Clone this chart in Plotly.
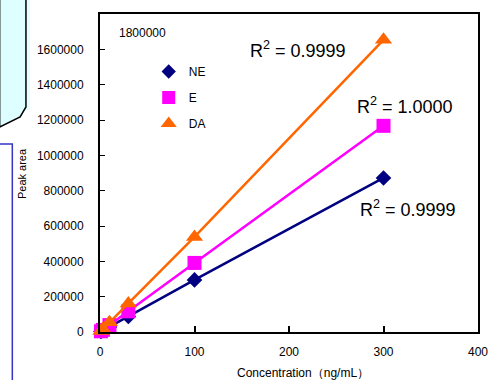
import plotly.graph_objects as go

conc = [1, 3, 10, 30, 100, 300]
ne = [3000, 9000, 29000, 88000, 295000, 872000]
e = [4000, 12000, 39000, 117000, 391000, 1167000]
da = [5500, 16500, 55000, 162000, 538000, 1654000]
series_names = ["NE", "E", "DA"]
r2_labels = ["R<sup>2</sup> = 0.9999", "R<sup>2</sup> = 1.0000", "R<sup>2</sup> = 0.9999"]
x_ticks = [0, 100, 200, 300, 400]
y_ticks = [0, 200000, 400000, 600000, 800000, 1000000, 1200000, 1400000, 1600000]

W, H = 497, 380
ML, MR, MT, MB = 100, 9, 14, 48
PW, PH = W - ML - MR, H - MT - MB

def px(x):
    return (x - ML) / PW

def py(y):
    return (H - MB - y) / PH

FONT = "Liberation Sans"
colors = ["#000080", "#FF00FF", "#FF6600"]
symbols = ["diamond", "square", "triangle-up"]
sizes = [12, 14, 15]

fig = go.Figure()
for name, vals, c, s, sz in zip(series_names, [ne, e, da], colors, symbols, sizes):
    fig.add_trace(go.Scatter(x=conc, y=vals, mode="lines+markers", name=name,
                             line=dict(color=c, width=2.5),
                             marker=dict(symbol=s, size=sz, color=c),
                             showlegend=False, cliponaxis=False))
for name, c, s, sz in zip(series_names, colors, symbols, sizes):
    fig.add_trace(go.Scatter(x=[None], y=[None], mode="markers", name=name,
                             marker=dict(symbol=s, size=sz - 1, color=c),
                             legendgroup=name, showlegend=True))

fig.update_layout(
    width=W, height=H,
    margin=dict(l=ML, r=MR, t=MT, b=MB, pad=0),
    paper_bgcolor="white", plot_bgcolor="white",
    font=dict(family=FONT, size=12, color="black"),
    showlegend=True,
    legend=dict(x=px(150), y=py(57), xanchor="left", yanchor="top",
                bgcolor="rgba(0,0,0,0)", font=dict(size=12),
                tracegroupgap=7, itemwidth=30),
    xaxis=dict(range=[0, 400], tickvals=x_ticks, ticks="inside", ticklen=6,
               tickwidth=1.5, tickcolor="black", showline=True, linewidth=2,
               linecolor="black", mirror=True, showgrid=False, zeroline=False,
               tickfont=dict(size=12), ticklabelstandoff=8),
    yaxis=dict(range=[0, 1800000], tickvals=y_ticks, ticks="inside", ticklen=5,
               tickwidth=1, tickcolor="black", showline=True, linewidth=2,
               linecolor="black", mirror=True, showgrid=False, zeroline=False,
               tickfont=dict(size=12), ticklabelstandoff=12, tickformat="d"),
)

ann = []
ann.append(dict(x=px(144), y=py(33), text="1800000", font=dict(size=12)))
ann.append(dict(x=px(303), y=py(50), text=r2_labels[0], font=dict(size=18)))
ann.append(dict(x=px(413), y=py(105), text=r2_labels[1], font=dict(size=18)))
ann.append(dict(x=px(416), y=py(208), text=r2_labels[2], font=dict(size=18)))
ann.append(dict(x=px(20), y=py(174), text="Peak area", textangle=-90, font=dict(size=11)))
ann.append(dict(x=px(308), y=py(373), text="Concentration（ng/mL）", font=dict(size=12)))
for a in ann:
    a.update(xref="paper", yref="paper", showarrow=False, xanchor="center", yanchor="middle")
fig.update_layout(annotations=ann)

shapes = []
shapes.append(dict(type="rect", xref="paper", yref="paper",
                   x0=px(24), x1=px(28), y0=py(110), y1=py(0),
                   fillcolor="#E6FFFF", line=dict(width=0), layer="above"))
path = "M {},{} L {},{} L {},{} L {},{} L {},{} Z".format(
    px(-3), py(-3), px(24), py(-3), px(24), py(107), px(18), py(117), px(-3), py(127))
shapes.append(dict(type="path", xref="paper", yref="paper", path=path,
                   fillcolor="#DDFFFF", line=dict(color="black", width=1.5), layer="above"))
path2 = "M {},{} L {},{} L {},{}".format(px(-3), py(144), px(10), py(144), px(10), py(383))
shapes.append(dict(type="path", xref="paper", yref="paper", path=path2,
                   line=dict(color="#3535C8", width=1.5), layer="above"))
fig.update_layout(shapes=shapes)

fig.write_html("out.html", config={"displayModeBar": False},
               post_script="document.body.style.margin='0';document.body.style.overflow='hidden';")
